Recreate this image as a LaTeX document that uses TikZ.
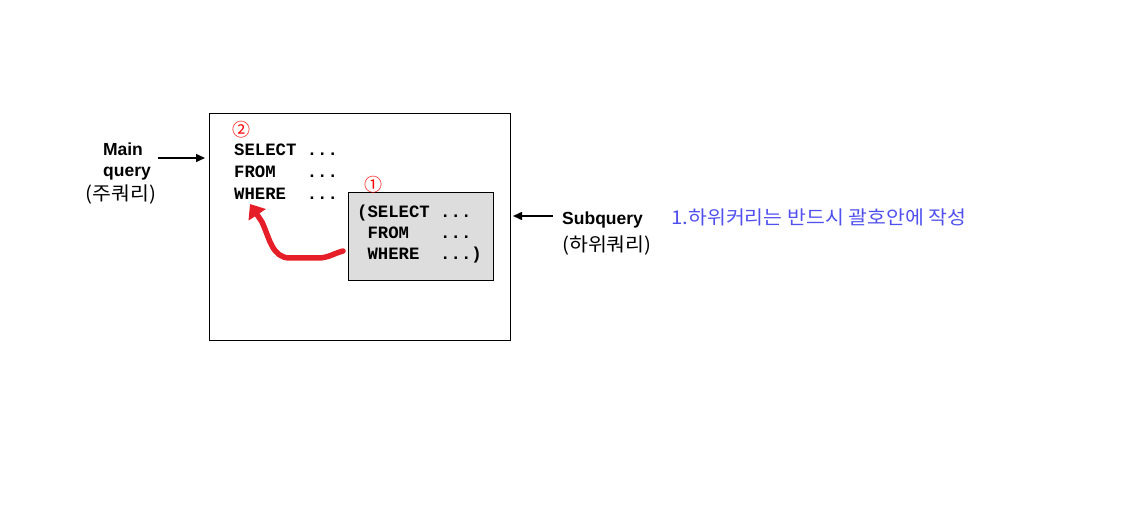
\documentclass[tikz,border=0pt]{standalone}
\usepackage{fontspec}
\setmainfont{Liberation Sans}
\newfontfamily\codefont{Liberation Mono}
\newfontfamily\krfont[FakeStretch=1.08]{Noto Sans CJK KR}
\newfontfamily\numfont{Noto Sans CJK KR}
\usetikzlibrary{arrows.meta}
\definecolor{subgray}{RGB}{221,221,221}
\definecolor{noteblue}{RGB}{80,80,240}
\definecolor{markred}{RGB}{230,30,40}

\begin{document}
\begin{tikzpicture}[x=1pt,y=-1pt,
  code/.style={anchor=base west, inner sep=0pt, font=\codefont\bfseries\fontsize{17.3}{20}\selectfont},
  lbl/.style={inner sep=0pt, font=\bfseries\fontsize{17.5}{20}\selectfont},
  kr/.style={inner sep=0pt, font=\krfont\fontsize{19}{22}\selectfont},
  num/.style={inner sep=0pt, text=red, font=\numfont\fontsize{18}{20}\selectfont},
  >={Triangle[length=9pt,width=8pt]}]
\useasboundingbox (0,0) rectangle (1141,510);
\node[draw, line width=1pt, anchor=north west, inner sep=0pt, outer sep=0pt,
  minimum width=301pt, minimum height=227pt] (mainbox) at (209,114) {};
\node[draw, line width=1pt, fill=subgray, anchor=north west, inner sep=0pt, outer sep=0pt,
  minimum width=145pt, minimum height=88pt] (subbox) at (348,193) {};
% main query
\node[num] (two) at (241,130) {②};
\node[code] (mselect) at (234,156) {SELECT ...};
\node[code] (mfrom) at (234,178) {FROM~~~...};
\node[code] (mwhere) at (234,200) {WHERE~~...};
% subquery
\node[num] (one) at (373,185) {①};
\node[code] (sselect) at (357,218) {(SELECT ...};
\node[code] (sfrom) at (357,239) {~FROM~~~...};
\node[code] (swhere) at (357,260) {~WHERE~~...)};
% labels
\node[lbl, anchor=base] (mainlbl) at (123,156) {Main};
\node[lbl, anchor=base] (querylbl) at (127,177) {query};
\node[kr] (mainkr) at (121,195) {(주쿼리)};
\node[lbl, anchor=base west] (sublbl) at (562,225) {Subquery};
\node[kr, anchor=west] (subkr) at (562,246) {(하위쿼리)};
\node[kr, anchor=west, text=noteblue] (note) at (671,217) {1.하위커리는 반드시 괄호안에 작성};
% arrows
\coordinate (mainstart) at (158,158);
\coordinate (substart) at (553,216);
\draw[->, line width=1.5pt, shorten >=4pt] (mainstart) -- (mainstart -| mainbox.west);
\draw[->, line width=1.5pt, shorten >=3pt] (substart) -- (substart -| mainbox.east);
\coordinate (redstart) at (343,251);
\coordinate (redend) at (250,204);
\draw[markred, line width=5.5pt, line cap=round,
  -{Triangle[length=13pt,width=20pt]}]
  (redstart) to[out=195,in=0] (318,258) -- (290,258)
  to[out=180,in=-65] (262,222) -- (redend);
\end{tikzpicture}
\end{document}
